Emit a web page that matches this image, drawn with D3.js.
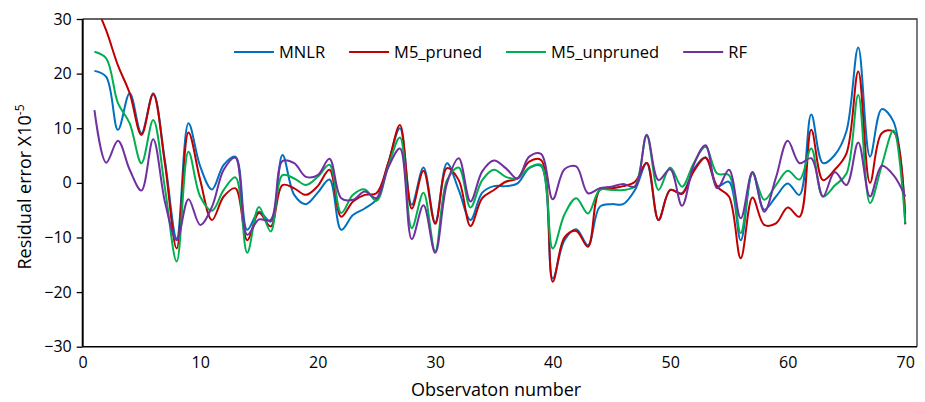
<!DOCTYPE html>
<html>
<head>
<meta charset="utf-8">
<script src="https://cdn.jsdelivr.net/npm/d3@7"></script>
<style>
  body { margin: 0; background: #fff; }
  text { font-family: "Open Sans", "Noto Sans", sans-serif; fill: #000; }
</style>
</head>
<body>
<div id="chart"></div>
<script>
// observation numbers 1..70
var observations = d3.range(1, 71);

var seriesNames = ["MNLR", "M5_pruned", "M5_unpruned", "RF"];
var seriesColors = ["#0070C0", "#C00000", "#00B050", "#7030A0"];

var mnlr = [20.5, 19.4, 9.7, 16.4, 9.1, 16.4, 4, -10.2, 10.9, 3,
            -1.2, 3.3, 4.8, -8.6, -5.3, -7.1, 5.1, -2.2, -3.9, -1.8,
            0.6, -8.6, -5.9, -4.7, -3, 3.6, 10, -4, 2.8, -7.2,
            3.6, -1.3, -6.8, -1.8, -0.6, -0.6, -0.1, 2.7, 3.1, -17.5,
            -10.5, -8.5, -11.4, -4.4, -3.9, -3.9, -1.3, 3.6, -6.8, -1.3,
            -1.9, 2.5, 4.7, -0.6, 0.2, -10.5, 1.9, -4.9, -2.5, -0.1,
            -2.2, 12.5, 3.6, 5.1, 9.5, 24.8, 4.8, 13.5, 11.2, -5.6];

var m5Pruned = [33, 27.9, 21.5, 16.4, 8.8, 16.2, 3.5, -12, 9.2, 0.5,
                -6.8, -2.5, -1, -10.5, -5.5, -8, -0.4, -1, -2.2, -0.6,
                2.4, -6.2, -3.4, -2.2, -1.9, 3.6, 10.6, -4.7, 2.2, -7.5,
                2.7, 0.5, -7.9, -2.8, -1.3, 0.2, 0.8, 3.9, 4.2, -18.1,
                -10, -8.8, -11.7, -1.3, -1, -0.6, 0.2, 3.7, -6.8, -1.3,
                -2, 2.1, 4.6, -0.7, -2.5, -13.8, -2.7, -7.7, -7.4, -4.5,
                -6.2, 9.7, 0.5, 2.4, 5.4, 20.4, 0, 9.1, 9.4, -7.6];

var m5Unpruned = [24, 22.8, 14.6, 10.9, 3.6, 11.5, -1, -14.4, 5.7, -2.5,
                  -5.1, -1.3, 1, -12.8, -4.4, -8.9, 1.4, 0.8, -0.4, 1.1,
                  3.3, -5.5, -2.2, -1.2, -3.3, 3, 8.3, -8.3, -1.8, -12.5,
                  0.5, 2.8, -4.5, 0.5, 2.4, 1.1, 0.8, 2.8, 3.3, -12,
                  -5.8, -2.8, -5.6, -1.3, -1.3, -1.3, -0.6, 8.6, -1.3, 2.8,
                  -0.7, 3.6, 6.6, 1.7, 1.4, -9.2, 1.7, -3.1, -0.4, 2.2,
                  0.6, 6.3, -2.5, -0.5, 1.7, 16.1, -3.7, 3.2, 9.6, -7.4];

var rf = [13.3, 3.7, 7.7, 2.4, -1.4, 8, -3.5, -10.5, -3, -7.7,
          -4.4, 2.4, 4.6, -9.5, -6.7, -6.8, 4, 3.6, 1.1, 1.4,
          4.4, -2.8, -3.1, -1.6, -2.8, 2.8, 6.3, -10.3, -4.1, -12.8,
          -0.1, 4.5, -3.4, 2.1, 4.1, 2.7, 0.8, 4.8, 5.3, -3,
          2.5, 3, -1.9, -1, -0.7, -0.2, -0.7, 8.8, 0.5, 2.5,
          -4.2, 3.3, 6.9, -1, 2.4, -6.5, 2, -5.3, 1, 7.7,
          3.6, 4.5, -2.5, 2, -0.4, 7.4, -2.5, 3.1, 1.4, -2.5];

var xTicks = [0, 10, 20, 30, 40, 50, 60, 70];
var yTicks = [-30, -20, -10, 0, 10, 20, 30];

var allSeries = [mnlr, m5Pruned, m5Unpruned, rf];

var width = 925, height = 402;
var svg = d3.select("#chart").append("svg")
            .attr("width", width)
            .attr("height", height);

var x = d3.scaleLinear().domain([0, 71]).range([82.7, 917]);
var y = d3.scaleLinear().domain([-30, 30]).range([346.7, 19]);

// clip so values above 30 get cut at the frame
svg.append("clipPath").attr("id", "plotClip")
  .append("rect")
  .attr("x", x(0)).attr("y", y(30))
  .attr("width", x(71) - x(0)).attr("height", y(-30) - y(30));

// frame (top and right)
svg.append("path")
  .attr("d", "M" + x(0) + "," + y(30) + "H" + x(71) + "V" + y(-30))
  .attr("fill", "none")
  .attr("stroke", "#333")
  .attr("stroke-width", 1.3);

// smoothed lines
var line = d3.line()
  .x(function(d, i) { return x(observations[i]); })
  .y(function(d) { return y(d); })
  .curve(d3.curveCatmullRom.alpha(0.5));

svg.append("g").attr("clip-path", "url(#plotClip)")
  .selectAll("path.series")
  .data(allSeries)
  .enter()
  .append("path")
  .attr("class", "series")
  .attr("d", line)
  .attr("fill", "none")
  .attr("stroke", function(d, i) { return seriesColors[i]; })
  .attr("stroke-width", 2);

// x axis
var xAxis = svg.append("g")
  .attr("transform", "translate(0," + y(-30) + ")")
  .call(d3.axisBottom(x).tickValues(xTicks).tickSize(0).tickPadding(10));
xAxis.select(".domain").remove();
xAxis.append("line")
  .attr("x1", x(0)).attr("x2", x(71))
  .attr("stroke", "#000").attr("stroke-width", 1.5);
xAxis.selectAll("text")
  .style("font-size", "16px")
  .style("font-family", "'Open Sans', sans-serif")
  .attr("fill", "#000");

// y axis
var yAxis = svg.append("g")
  .attr("transform", "translate(" + x(0) + ",0)")
  .call(d3.axisLeft(y).tickValues(yTicks).tickSize(6).tickPadding(5));
yAxis.select(".domain").attr("stroke", "#000").attr("stroke-width", 2)
  .attr("d", "M0," + y(30) + "V" + y(-30));
yAxis.selectAll(".tick line").attr("stroke", "#000").attr("stroke-width", 1.3);
yAxis.selectAll("text")
  .style("font-size", "16px")
  .style("font-family", "'Open Sans', sans-serif")
  .attr("fill", "#000");

// axis titles
svg.append("text")
  .attr("x", 496)
  .attr("y", 396)
  .attr("text-anchor", "middle")
  .style("font-size", "18px")
  .text("Observaton number");

var yTitle = svg.append("text")
  .attr("transform", "translate(31,187) rotate(-90)")
  .attr("text-anchor", "middle")
  .style("font-size", "18px");
yTitle.append("tspan").text("Residual error X10");
yTitle.append("tspan")
  .attr("dy", -7)
  .style("font-size", "12px")
  .text("-5");

// legend
var legendX = 234, legendY = 52;
seriesNames.forEach(function(name, i) {
  svg.append("line")
    .attr("x1", legendX).attr("x2", legendX + 40)
    .attr("y1", legendY).attr("y2", legendY)
    .attr("stroke", seriesColors[i])
    .attr("stroke-width", 2);
  var t = svg.append("text")
    .attr("x", legendX + 45)
    .attr("y", legendY + 6)
    .style("font-size", "16.5px")
    .text(name);
  legendX = legendX + 45 + t.node().getComputedTextLength() + 24;
});
</script>
</body>
</html>
